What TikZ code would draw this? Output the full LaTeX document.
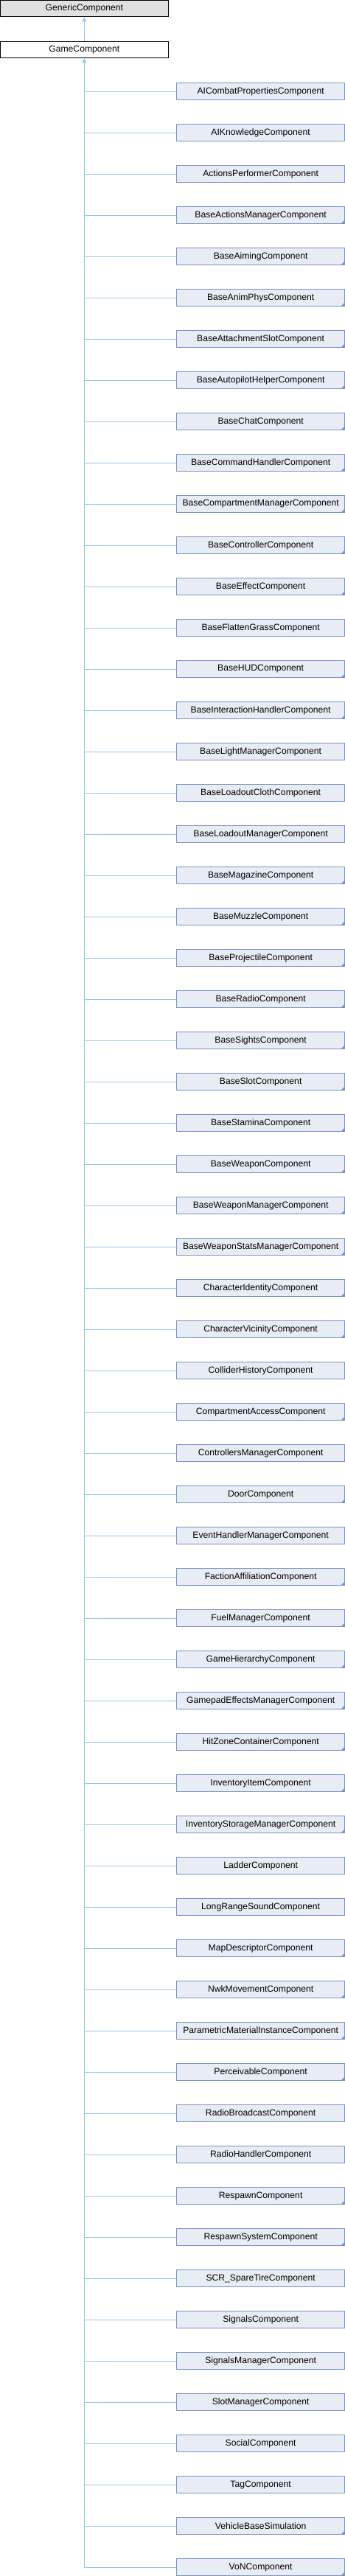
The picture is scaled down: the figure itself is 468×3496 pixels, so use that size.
\documentclass[tikz,border=0pt]{standalone}
\usepackage{fontspec}
\setmainfont{Liberation Sans}
\usetikzlibrary{arrows.meta}
\definecolor{boxfill}{HTML}{E8ECF4}
\definecolor{boxdraw}{HTML}{7A92C8}
\definecolor{linkcol}{HTML}{94C8EA}
\definecolor{extfill}{HTML}{E0E0E0}
\tikzset{
  cls/.style={rectangle, draw, line width=1bp, minimum width=227.7bp, minimum height=22.3bp,
    inner sep=0pt, font=\fontsize{12.2}{14}\selectfont, text=black},
  extcls/.style={cls, draw=black, fill=extfill},
  gamecls/.style={cls, draw=black, fill=white},
  childcls/.style={cls, draw=boxdraw, fill=boxfill},
  link/.style={draw=linkcol, line width=1bp},
  corner/.style={fill=boxdraw},
}
\begin{document}
\begin{tikzpicture}[x=1bp,y=-1bp]
\useasboundingbox (0,0) rectangle (468,3496);
\node[extcls] (generic) at (114.35,11.65) {GenericComponent};
\node[gamecls] (game) at (114.35,67.65) {GameComponent};
\draw[link, -{Triangle[length=6bp,width=6bp,fill=linkcol]}] (game.north) -- (generic.south);
\foreach [count=\i] \name/\m in {
AICombatPropertiesComponent/0,
AIKnowledgeComponent/0,
ActionsPerformerComponent/0,
BaseActionsManagerComponent/1,
BaseAimingComponent/1,
BaseAnimPhysComponent/1,
BaseAttachmentSlotComponent/1,
BaseAutopilotHelperComponent/1,
BaseChatComponent/1,
BaseCommandHandlerComponent/1,
BaseCompartmentManagerComponent/1,
BaseControllerComponent/1,
BaseEffectComponent/1,
BaseFlattenGrassComponent/0,
BaseHUDComponent/1,
BaseInteractionHandlerComponent/1,
BaseLightManagerComponent/0,
BaseLoadoutClothComponent/0,
BaseLoadoutManagerComponent/0,
BaseMagazineComponent/1,
BaseMuzzleComponent/1,
BaseProjectileComponent/1,
BaseRadioComponent/1,
BaseSightsComponent/1,
BaseSlotComponent/1,
BaseStaminaComponent/1,
BaseWeaponComponent/1,
BaseWeaponManagerComponent/1,
BaseWeaponStatsManagerComponent/1,
CharacterIdentityComponent/1,
CharacterVicinityComponent/1,
ColliderHistoryComponent/0,
CompartmentAccessComponent/1,
ControllersManagerComponent/0,
DoorComponent/1,
EventHandlerManagerComponent/0,
FactionAffiliationComponent/1,
FuelManagerComponent/1,
GameHierarchyComponent/1,
GamepadEffectsManagerComponent/1,
HitZoneContainerComponent/1,
InventoryItemComponent/1,
InventoryStorageManagerComponent/1,
LadderComponent/0,
LongRangeSoundComponent/0,
MapDescriptorComponent/1,
NwkMovementComponent/1,
ParametricMaterialInstanceComponent/1,
PerceivableComponent/1,
RadioBroadcastComponent/0,
RadioHandlerComponent/0,
RespawnComponent/1,
RespawnSystemComponent/1,
SCR\_SpareTireComponent/0,
SignalsComponent/0,
SignalsManagerComponent/0,
SlotManagerComponent/0,
SocialComponent/0,
TagComponent/0,
VehicleBaseSimulation/1,
VoNComponent/1} {
  \node[childcls] (c\i) at (353.65,{124+56*(\i-1)}) {\name};
  \draw[link] (c\i.west) -- (c\i.west -| game.south);
  \ifnum\m=1
    \fill[corner] ([shift={(-5.5,0)}]c\i.south east) -- (c\i.south east) -- ([shift={(0,-5.5)}]c\i.south east) -- cycle;
  \fi
}
\draw[link, -{Triangle[length=6bp,width=6bp,fill=linkcol]}] (c61.west -| game.south) -- (game.south);
\end{tikzpicture}
\end{document}
